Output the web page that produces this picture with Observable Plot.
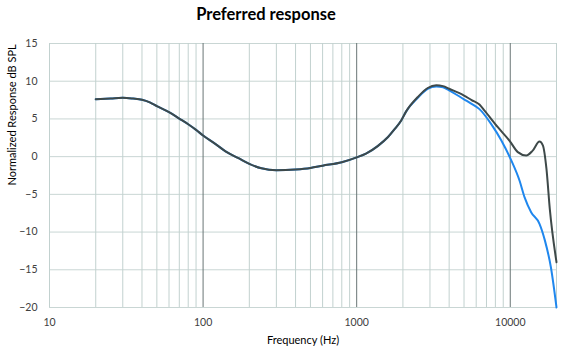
<!DOCTYPE html>
<html><head><meta charset="utf-8">
<script src="https://cdn.jsdelivr.net/npm/d3@7"></script>
<script src="https://cdn.jsdelivr.net/npm/@observablehq/plot@0.6"></script>
<style>
body{margin:0;background:#fff;font-family:Lato,sans-serif;}
#wrap{position:relative;width:562px;height:354px;overflow:hidden;}
#title{position:absolute;top:4px;left:266px;transform:translateX(-50%);font-weight:bold;font-size:16.5px;white-space:nowrap;color:#000;}
#chart{position:absolute;top:30px;left:0;}
</style></head><body>
<div id="wrap"><div id="title">Preferred response</div><div id="chart"></div></div>
<script>
const darkFreq = [20,25,30,35,40,45,50,60,70,80,90,100,120,140,170,200,240,300,400,500,600,800,1000,1150,1370,1600,1760,1950,2100,2500,2900,3300,3650,4000,5000,5600,6300,6800,8300,9900,11200,12700,14000,15500,16300,17200,18100,20000];
const darkVal  = [7.6,7.7,7.8,7.7,7.55,7.2,6.7,5.9,5.05,4.3,3.55,2.8,1.7,0.7,-0.2,-0.95,-1.55,-1.8,-1.7,-1.5,-1.2,-0.75,-0.1,0.4,1.4,2.6,3.6,4.8,6.0,7.9,9.1,9.45,9.35,9.0,8.1,7.5,6.9,6.1,3.9,2.1,0.6,0.15,0.8,2.0,1.5,-1.6,-7.0,-14];
const blueFreq = [20,25,30,35,40,45,50,60,70,80,90,100,120,140,170,200,240,300,400,500,600,800,1000,1150,1370,1600,1760,1950,2100,2500,2900,3300,3650,4000,5000,5600,6300,7500,8750,10150,11500,12400,13700,15500,16800,18400,20000];
const blueVal  = [7.6,7.7,7.8,7.7,7.55,7.2,6.7,5.9,5.05,4.3,3.55,2.8,1.7,0.7,-0.2,-0.95,-1.55,-1.8,-1.7,-1.5,-1.2,-0.75,-0.1,0.4,1.4,2.6,3.6,4.8,6.0,7.8,9.0,9.3,9.2,8.8,7.6,7.0,6.3,4.35,2.14,-0.5,-3.2,-5.4,-7.4,-8.9,-11.1,-14.7,-20];
const xTicks = [10,100,1000,10000];
const xMinorGrid = [20,30,40,50,60,70,80,90,200,300,400,500,600,700,800,900,2000,3000,4000,5000,6000,7000,8000,9000,20000];
const yTicks = [-20,-15,-10,-5,0,5,10,15];
const xLabel = "Frequency (Hz)";
const yLabel = "Normalized Response dB SPL";

const dark = darkFreq.map((f,i)=>({f, v: darkVal[i]}));
const blue = blueFreq.map((f,i)=>({f, v: blueVal[i]}));

const plot = Plot.plot({
  width: 562, height: 324,
  marginLeft: 49, marginRight: 6, marginTop: 13, marginBottom: 47,
  style: {fontFamily: "Lato, sans-serif", fontSize: "10.5px", color: "#404040", background: "#fff"},
  x: {type: "log", domain: [10, 20000], ticks: xTicks, tickFormat: d => String(d), tickSize: 0, tickPadding: 11, label: null},
  y: {domain: [-20, 15], ticks: yTicks, tickSize: 0, tickPadding: 12, label: null},
  marks: [
    Plot.ruleY(yTicks, {stroke: "#c9d6d4", strokeWidth: 1}),
    Plot.ruleX([10, ...xMinorGrid], {stroke: "#c2d1cf", strokeWidth: 1}),
    Plot.ruleX([100, 1000, 10000], {stroke: "#6a7676", strokeWidth: 1}),
    Plot.line(blue, {x: "f", y: "v", stroke: "#1f87ee", strokeWidth: 2, curve: "monotone-x"}),
    Plot.line(dark, {x: "f", y: "v", stroke: "#3e4949", strokeWidth: 2, curve: "monotone-x"}),
    Plot.text([xLabel], {frameAnchor: "bottom", dy: 36, fontSize: 11, fill: "#000"}),
    Plot.text([yLabel], {frameAnchor: "left", rotate: -90, dx: -37, dy: 10, fontSize: 11, fill: "#000"})
  ]
});
document.getElementById("chart").appendChild(plot);
</script>
</body></html>
